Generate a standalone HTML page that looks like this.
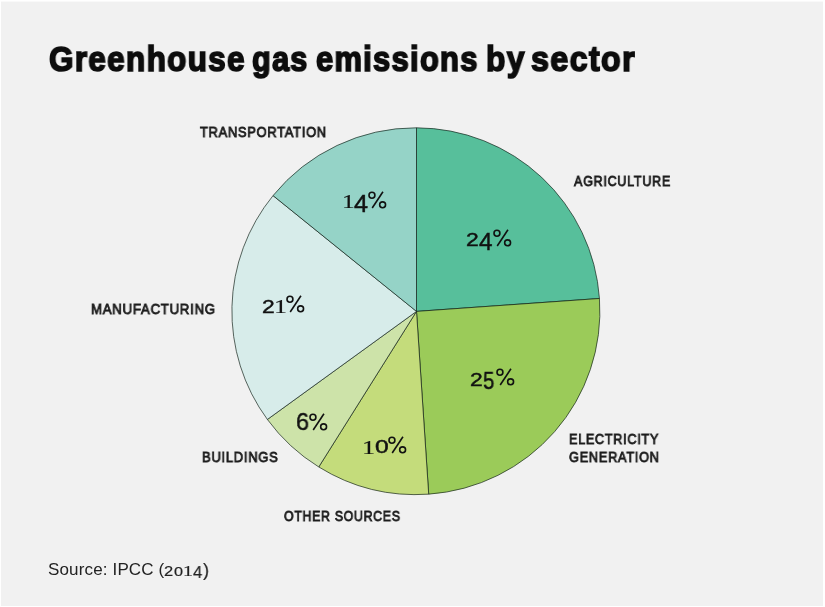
<!DOCTYPE html>
<html><head><meta charset="utf-8">
<style>
html,body{margin:0;padding:0;}
body{width:825px;height:607px;background:#f1f1f1;position:relative;overflow:hidden;font-family:"Liberation Sans",sans-serif;color:#1a1a1a;}
.t{position:absolute;white-space:nowrap;line-height:1;will-change:transform;}
.w{will-change:transform;position:absolute;white-space:nowrap;line-height:1;top:40.6px;font-size:35px;font-weight:bold;color:#0d0d0d;letter-spacing:1.5px;transform-origin:0 0;-webkit-text-stroke:1.7px #0d0d0d;}
.lab{font-size:14px;font-weight:normal;color:#1c1c1c;letter-spacing:0.8px;transform-origin:0 0;-webkit-text-stroke:0.85px #1c1c1c;}
#src{left:48px;top:561.4px;font-size:17px;color:#222;letter-spacing:0.15px;}
svg{position:absolute;left:0;top:0;}
.g{will-change:transform;position:absolute;line-height:1;white-space:nowrap;color:#111;transform-origin:0 0;-webkit-text-stroke:0.45px #111;}
.g.s{color:#222;-webkit-text-stroke:0.2px #222;}
.pc{position:absolute;fill:none;stroke:#111;stroke-width:1.6;}
</style></head><body>
<svg width="825" height="607" viewBox="0 0 825 607">
<g stroke="#0a1a10" stroke-opacity="0.66" stroke-width="1" stroke-linejoin="round">
<path d="M416.5,311.4 L416.50,127.80 A184.0,183.4 0 0 1 599.46,298.49 Z" fill="#57bf9b"/>
<path d="M416.5,311.4 L599.46,298.49 A184.0,183.4 0 0 1 428.69,494.16 Z" fill="#9bcb59"/>
<path d="M416.5,311.4 L428.69,494.16 A184.0,183.4 0 0 1 318.76,466.96 Z" fill="#c4dc7b"/>
<path d="M416.5,311.4 L318.76,466.96 A184.0,183.4 0 0 1 267.38,419.46 Z" fill="#cde3a9"/>
<path d="M416.5,311.4 L267.38,419.46 A184.0,183.4 0 0 1 273.05,195.60 Z" fill="#d7ecea"/>
<path d="M416.5,311.4 L273.05,195.60 A184.0,183.4 0 0 1 416.50,127.80 Z" fill="#95d3c7"/>
</g>
</svg>
<div style="position:absolute;left:0;top:0;width:825px;height:1px;background:#fff"></div>
<div style="position:absolute;left:0;top:1px;width:825px;height:1px;background:#f9f9f9"></div>
<div style="position:absolute;left:0;top:0;width:1px;height:607px;background:#fff"></div>
<div style="position:absolute;left:823px;top:0;width:2px;height:607px;background:#fff"></div>
<div style="position:absolute;left:0;top:606px;width:825px;height:1px;background:#fff"></div>
<div class="w" style="left:48.7px;transform:scaleX(0.898)">Greenhouse</div>
<div class="w" style="left:252.1px;transform:scaleX(0.874)">gas</div>
<div class="w" style="left:315.5px;transform:scaleX(0.881)">emissions</div>
<div class="w" style="left:486.1px;transform:scaleX(0.905)">by</div>
<div class="w" style="left:531.1px;transform:scaleX(0.920)">sector</div>
<div class="t lab" style="left:199.5px;top:125px;transform:scaleX(0.919)">TRANSPORTATION</div>
<div class="t lab" style="left:573.8px;top:174px;transform:scaleX(0.897)">AGRICULTURE</div>
<div class="t lab" style="left:90.8px;top:302px;transform:scaleX(0.942)">MANUFACTURING</div>
<div class="t lab" style="left:202.2px;top:450px;transform:scaleX(0.926)">BUILDINGS</div>
<div class="t lab" style="left:283.6px;top:509px;transform:scaleX(0.880)">OTHER SOURCES</div>
<div class="t lab" style="left:569.1px;top:432px;transform:scaleX(0.902)">ELECTRICITY</div>
<div class="t lab" style="left:568.8px;top:450px;transform:scaleX(0.911)">GENERATION</div>
<div class="g" style="left:465.76px;top:231.15px;font-size:18.29px;transform:scaleX(1.250)">2</div>
<div class="g" style="left:479.39px;top:230.23px;font-size:24.35px;transform:scaleX(0.994)">4</div>
<div class="g" style="left:341.61px;top:193.09px;font-size:18.93px;transform:scaleX(1.343);font-family:'Liberation Serif';-webkit-text-stroke:0.15px #111">1</div>
<div class="g" style="left:354.37px;top:193.14px;font-size:23.62px;transform:scaleX(1.067)">4</div>
<div class="g" style="left:262.26px;top:297.59px;font-size:18.71px;transform:scaleX(1.221)">2</div>
<div class="g" style="left:274.46px;top:297.34px;font-size:19.24px;transform:scaleX(1.352);font-family:'Liberation Serif';-webkit-text-stroke:0.15px #111">1</div>
<div class="g" style="left:295.53px;top:410.21px;font-size:24.79px;transform:scaleX(0.947)">6</div>
<div class="g" style="left:361.53px;top:437.78px;font-size:19.54px;transform:scaleX(1.345);font-family:'Liberation Serif';-webkit-text-stroke:0.15px #111">1</div>
<div class="g" style="left:374.51px;top:438.26px;font-size:18.87px;transform:scaleX(1.305)">0</div>
<div class="g" style="left:470.26px;top:370.69px;font-size:18.00px;transform:scaleX(1.270)">2</div>
<div class="g" style="left:483.18px;top:370.39px;font-size:23.29px;transform:scaleX(0.877)">5</div>
<div class="g s" style="left:163.98px;top:564.79px;font-size:13.86px;transform:scaleX(1.190)">2</div>
<div class="g s" style="left:174.15px;top:564.82px;font-size:13.66px;transform:scaleX(1.187)">0</div>
<div class="g s" style="left:183.43px;top:564.39px;font-size:14.50px;transform:scaleX(1.359);font-family:'Liberation Serif';-webkit-text-stroke:0.15px #111">1</div>
<div class="g s" style="left:193.39px;top:564.30px;font-size:17.39px;transform:scaleX(0.954)">4</div>
<div class="g s" style="left:202.82px;top:560.53px;font-size:18.93px;transform:scaleX(0.955)">)</div>
<svg class="pc" style="left:492.80px;top:228.70px" width="19" height="18" viewBox="-0.5 -0.5 19 18"><circle cx="3.45" cy="3.75" r="2.95"/><circle cx="14.1" cy="13.3" r="2.95"/><line x1="14.45" y1="0.3" x2="3.7" y2="16.55"/></svg>
<svg class="pc" style="left:368.10px;top:191.20px" width="19" height="18" viewBox="-0.5 -0.5 19 18"><circle cx="3.45" cy="3.75" r="2.95"/><circle cx="14.1" cy="13.3" r="2.95"/><line x1="14.45" y1="0.3" x2="3.7" y2="16.55"/></svg>
<svg class="pc" style="left:286.10px;top:295.40px" width="19" height="18" viewBox="-0.5 -0.5 19 18"><circle cx="3.45" cy="3.75" r="2.95"/><circle cx="14.1" cy="13.3" r="2.95"/><line x1="14.45" y1="0.3" x2="3.7" y2="16.55"/></svg>
<svg class="pc" style="left:309.40px;top:413.00px" width="19" height="18" viewBox="-0.5 -0.5 19 18"><circle cx="3.45" cy="3.75" r="2.95"/><circle cx="14.1" cy="13.3" r="2.95"/><line x1="14.45" y1="0.3" x2="3.7" y2="16.55"/></svg>
<svg class="pc" style="left:388.30px;top:436.00px" width="19" height="18" viewBox="-0.5 -0.5 19 18"><circle cx="3.45" cy="3.75" r="2.95"/><circle cx="14.1" cy="13.3" r="2.95"/><line x1="14.45" y1="0.3" x2="3.7" y2="16.55"/></svg>
<svg class="pc" style="left:495.90px;top:368.20px" width="19" height="18" viewBox="-0.5 -0.5 19 18"><circle cx="3.45" cy="3.75" r="2.95"/><circle cx="14.1" cy="13.3" r="2.95"/><line x1="14.45" y1="0.3" x2="3.7" y2="16.55"/></svg>
<div id="src" class="t">Source: IPCC (</div>
</body></html>
